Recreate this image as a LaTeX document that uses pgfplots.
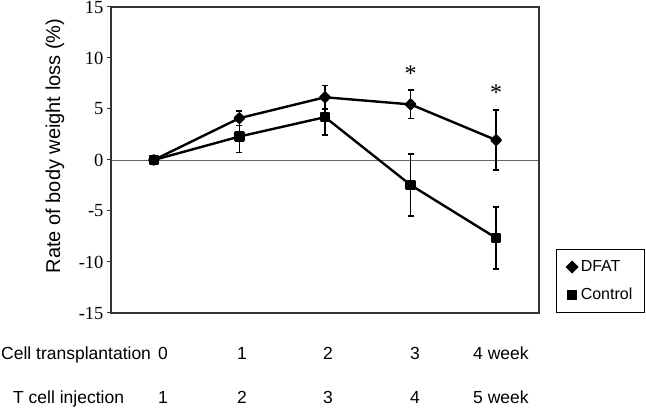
\documentclass[border=0pt]{standalone}
\usepackage{pgfplots}
\pgfplotsset{compat=1.18}
\usepackage{pgfplotstable}
\usepackage{fontspec}
\setmainfont{Liberation Sans}
\newfontfamily\serifnum{Liberation Serif}

% week, mean, error
\pgfplotstableread{
x y e
0 0 0
1 4.1 0.72
2 6.15 1.15
3 5.45 1.4
4 1.95 2.95
}\dfat
\pgfplotstableread{
x y e
0 0 0
1 2.3 1.55
2 4.2 1.73
3 -2.45 3.05
4 -7.65 3.05
}\control

\begin{document}
\begin{tikzpicture}[x=1pt,y=1pt]
\path[use as bounding box] (0,0) rectangle (646,411);
\begin{axis}[
  at={(111pt,98pt)},anchor=south west,
  scale only axis,width=428pt,height=306pt,
  xmin=-0.5,xmax=4.5,ymin=-15,ymax=15,
  xtick=\empty,ytick={-15,-10,...,15},ytick pos=left,
  axis line style={black!80,line width=2.8pt},
  tick align=outside,major tick length=4pt,
  ytick style={black!80,line width=1pt},
  /pgf/number format/assume math mode=true,
  y tick label style={font=\serifnum\fontsize{18.5}{18.5}\selectfont},
  ylabel={Rate of body weight loss (\%)},
  ylabel style={at={(axis description cs:-0.131,0.546)},anchor=center,
    font=\fontsize{20}{20}\selectfont},
  legend style={at={(axis description cs:1.2477,0)},anchor=south east,
    draw=black,line width=1.3pt,font=\fontsize{16}{16}\selectfont,
    inner xsep=10pt,inner ysep=9pt,row sep=11pt,
    /tikz/every odd column/.append style={column sep=1pt}},
  legend cell align=left,
  clip=false]
\addlegendimage{only marks,mark=square*,mark options={rotate=45},mark size=4pt,black}
\addlegendimage{only marks,mark=square*,mark size=4.2pt,black}
\draw[black!60,line width=0.9pt] (axis cs:-0.5,0) -- (axis cs:4.5,0);
\draw[black!80,line width=2.8pt] (rel axis cs:0,0) rectangle (rel axis cs:1,1);
\addplot[black,line width=2.4pt,line join=round,mark=square*,
  mark options={rotate=45,mark size=3.3pt},
  error bars/.cd,y dir=both,y explicit,
  error bar style={line width=1.6pt,black},
  error mark options={rotate=90,mark size=3pt,line width=1.6pt,black}]
  table[x=x,y=y,y error=e] {\dfat};
\addplot[black,line width=2.4pt,line join=round,mark=square*,
  mark options={mark size=4pt},
  error bars/.cd,y dir=both,y explicit,
  error bar style={line width=1.6pt,black},
  error mark options={rotate=90,mark size=3pt,line width=1.6pt,black}]
  table[x=x,y=y,y error=e] {\control};
\legend{DFAT,Control}
\node[font=\serifnum\fontsize{24}{24}\selectfont] at (axis cs:3,8.43) {*};
\node[font=\serifnum\fontsize{24}{24}\selectfont] at (axis cs:4,6.58) {*};
\end{axis}
\begin{scope}[every node/.style={font=\fontsize{17.5}{17.5}\selectfont,inner sep=0pt}]
\node[anchor=base west] at (1,51) {Cell transplantation};
\node[anchor=base] at (163,51) {0};
\node[anchor=base] at (242,51) {1};
\node[anchor=base] at (328,51) {2};
\node[anchor=base] at (415,51) {3};
\node[anchor=base west] at (473,51) {4 week};
\node[anchor=base west] at (13,7.5) {T cell injection};
\node[anchor=base] at (163,7.5) {1};
\node[anchor=base] at (242,7.5) {2};
\node[anchor=base] at (328,7.5) {3};
\node[anchor=base] at (415,7.5) {4};
\node[anchor=base west] at (473,7.5) {5 week};
\end{scope}
\end{tikzpicture}
\end{document}
